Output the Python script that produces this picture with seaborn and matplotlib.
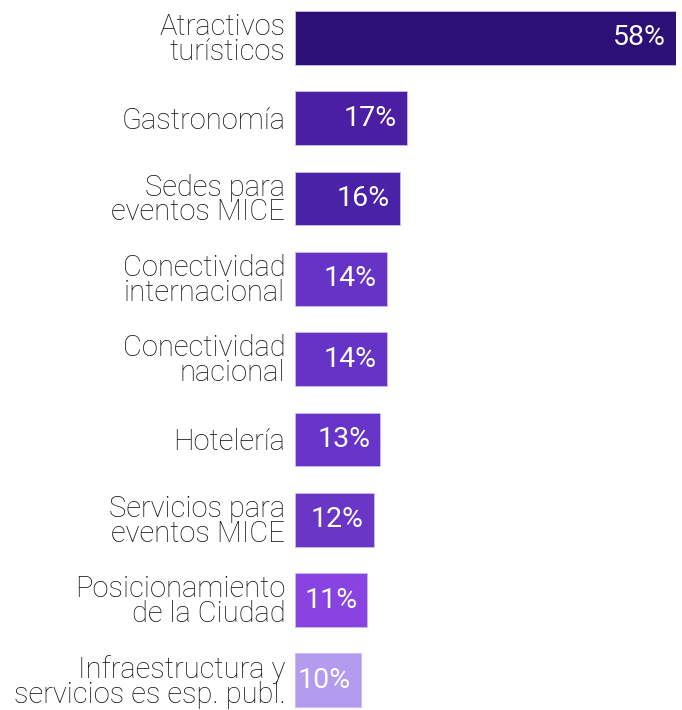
import matplotlib
matplotlib.use("Agg")
import matplotlib.pyplot as plt
import seaborn as sns
import pandas as pd

categories = ["Atractivos\nturísticos", "Gastronomía", "Sedes para\neventos MICE",
              "Conectividad\ninternacional", "Conectividad\nnacional", "Hotelería",
              "Servicios para\neventos MICE", "Posicionamiento\nde la Ciudad",
              "Infraestructura y\nservicios es esp. publ."]
values = [58, 17, 16, 14, 14, 13, 12, 11, 10]
labels = ["58%", "17%", "16%", "14%", "14%", "13%", "12%", "11%", "10%"]
colors = ["#2c1078", "#4a1fa3", "#4a22a8", "#6534c7", "#6534c7", "#6634c8",
          "#6936c6", "#8843e0", "#b39bf0"]

sns.set_style("white")
plt.rcParams['font.family'] = ['Roboto', 'DejaVu Sans']

df = pd.DataFrame({"cat": categories, "val": values})

fig = plt.figure(figsize=(6.82, 7.10), dpi=100)
ax = fig.add_axes([295/682, 0, (676-295)/682, 1])
sns.barplot(data=df, x="val", y="cat", hue="cat", palette=colors, legend=False,
            width=0.67, ax=ax, edgecolor="#c9bde8", linewidth=0.6, saturation=1)
ax.set_xlim(0, 58)
ax.set_ylim(8.37, -0.473)
ax.set_xlabel("")
ax.set_ylabel("")
ax.set_xticks([])
for s in ax.spines.values():
    s.set_visible(False)
ax.tick_params(axis="y", length=0, pad=7)
for t in ax.get_yticklabels():
    t.set_fontsize(21)
    t.set_fontweight("light")
    t.set_ha("right")
    t.set_linespacing(0.86)
    t.set_color("#111111")
for i, (v, lab) in enumerate(zip(values, labels)):
    ax.annotate(lab, xy=(v, i), xytext=(-10, 0), textcoords="offset pixels",
                ha="right", va="center", color="white", fontsize=20.5,
                fontweight="normal")
fig.savefig("out.png", dpi=100)
